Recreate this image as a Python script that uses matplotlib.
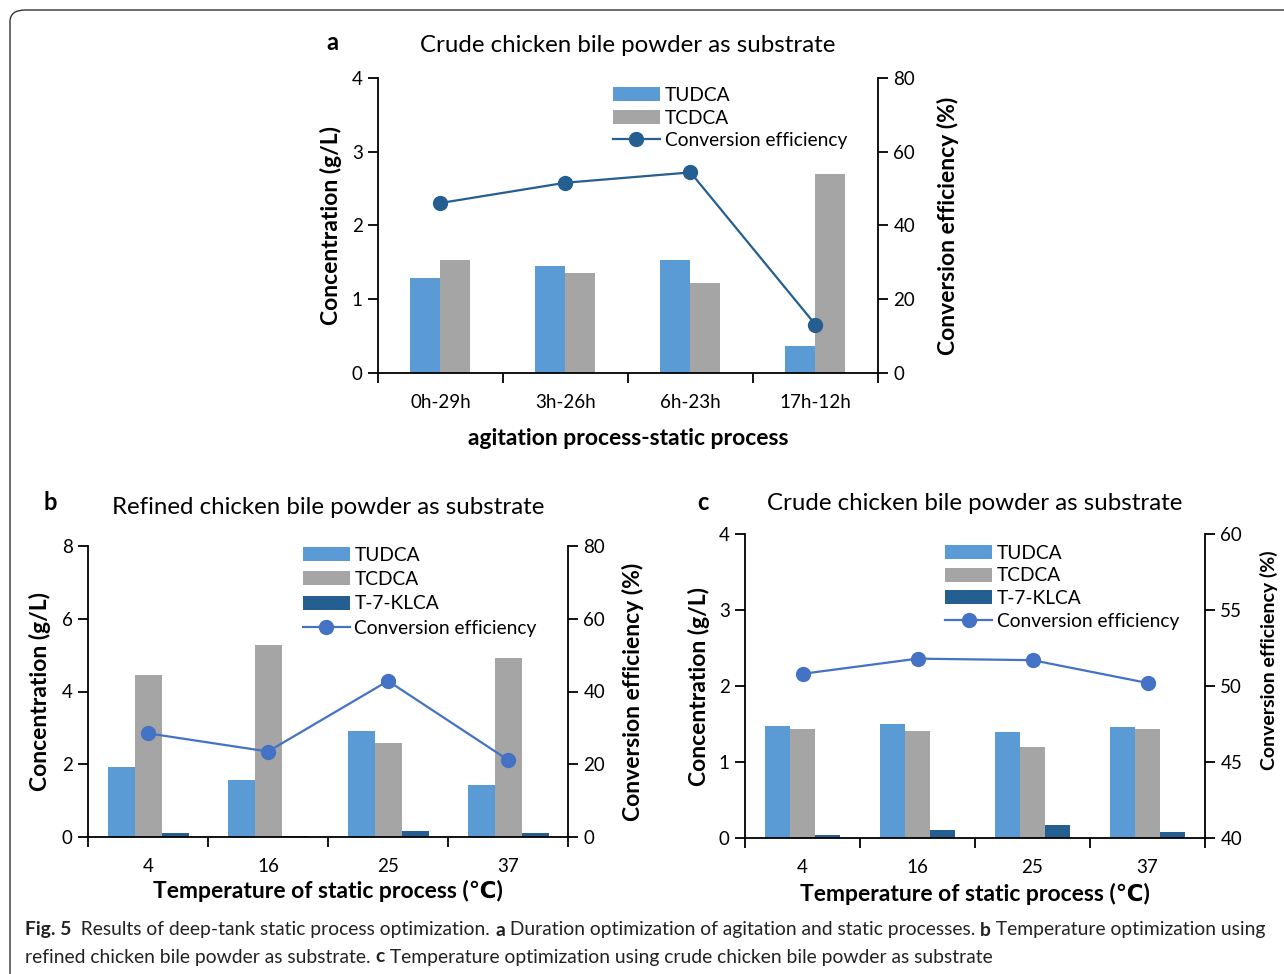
import matplotlib
matplotlib.use('Agg')
import matplotlib.pyplot as plt
from matplotlib.patches import FancyBboxPatch
import numpy as np

# ---------------- data ----------------
a_categories = ["0h-29h", "3h-26h", "6h-23h", "17h-12h"]
a_tudca = [1.29, 1.45, 1.53, 0.37]
a_tcdca = [1.53, 1.35, 1.22, 2.70]
a_conv = [46.1, 51.6, 54.4, 13.1]

b_categories = ["4", "16", "25", "37"]
b_tudca = [1.93, 1.58, 2.91, 1.44]
b_tcdca = [4.45, 5.27, 2.59, 4.92]
b_klca = [0.10, 0.03, 0.17, 0.10]
b_conv = [28.5, 23.5, 42.9, 21.2]

c_categories = ["4", "16", "25", "37"]
c_tudca = [1.47, 1.50, 1.40, 1.46]
c_tcdca = [1.43, 1.41, 1.20, 1.43]
c_klca = [0.04, 0.10, 0.17, 0.08]
c_conv = [50.8, 51.8, 51.7, 50.2]

series_names = ["TUDCA", "TCDCA", "T-7-KLCA"]
conv_name = "Conversion efficiency"

# ---------------- style ----------------
C_TUDCA = "#5B9BD5"
C_TCDCA = "#A5A5A5"
C_KLCA = "#255E91"
C_LINE_A = "#255E91"
C_LINE_BC = "#4472C4"

FONT = ['Lato', 'DejaVu Sans']
plt.rcParams['font.family'] = FONT

TICK_FS = 13.5
LABEL_FS = 16.5
LEG_FS = 13.8
TITLE_FS = 17.3

W, H = 1284, 974
fig = plt.figure(figsize=(W / 100, H / 100), dpi=100)

# rounded frame
frame = FancyBboxPatch((10 / W, -0.1), 1.2, 1 - 10 / H + 0.1,
                       boxstyle="round,pad=0,rounding_size=0.012",
                       transform=fig.transFigure, fill=False,
                       edgecolor="#333333", linewidth=1.0)
fig.patches.append(frame)


def make_axes(l, t, r, b):
    return fig.add_axes([l / W, 1 - b / H, (r - l) / W, (b - t) / H])


def panel(box, cats, bars, colors, names, conv, line_color, ylim, yticks,
          y2lim, y2ticks, barw, title, title_y, xlabel, xlabel_y,
          leg_anchor, leg_spacing, ylab_pad, y2lab_pad, y2lab_text=None):
    ax = make_axes(*box)
    n = len(cats)
    x = np.arange(n)
    k = len(bars)
    for i, (vals, col, nm) in enumerate(zip(bars, colors, names)):
        ax.bar(x + (i - (k - 1) / 2) * barw, vals, width=barw, color=col,
               label=nm, edgecolor='none', zorder=2)
    ax.set_xlim(-0.5, n - 0.5)
    ax.set_ylim(*ylim)
    ax.set_yticks(yticks)
    ax.set_yticklabels([f"{v:g}" for v in yticks])
    ax.set_xticks(x)
    ax.set_xticklabels(cats)
    ax.set_xticks(np.arange(n + 1) - 0.5, minor=True)
    ax.tick_params(axis='x', which='major', length=0, labelsize=TICK_FS, pad=15)
    ax.tick_params(axis='x', which='minor', length=7, width=1.3, direction='out')
    ax.tick_params(axis='y', length=7, width=1.3, direction='out', labelsize=TICK_FS, pad=4)
    ax.spines['top'].set_visible(False)
    ax.spines['right'].set_visible(False)
    for s in ['left', 'bottom']:
        ax.spines[s].set_linewidth(1.3)
    ax.set_ylabel("Concentration (g/L)", fontsize=LABEL_FS, fontweight='bold', labelpad=ylab_pad)

    ax2 = ax.twinx()
    ax2.set_ylim(*y2lim)
    ax2.set_yticks(y2ticks)
    ax2.set_yticklabels([f"{v:g}" for v in y2ticks])
    ax2.plot(x, conv, color=line_color, lw=1.6, marker='o', markersize=10,
             label=conv_name, zorder=3)
    ax2.spines['top'].set_visible(False)
    ax2.spines['left'].set_visible(False)
    ax2.spines['bottom'].set_visible(False)
    ax2.spines['right'].set_linewidth(1.3)
    ax2.tick_params(axis='y', length=7, width=1.3, direction='out', labelsize=TICK_FS, pad=4)
    if y2lab_text is None:
        ax2.set_ylabel("Conversion efficiency (%)", fontsize=LABEL_FS, fontweight='bold',
                       labelpad=y2lab_pad)
    else:
        px, py, fs = y2lab_text
        fig.text(px / W, 1 - py / H, "Conversion efficiency (%)", rotation=90,
                 ha='center', va='center', fontsize=fs, fontweight='bold')

    h1, l1 = ax.get_legend_handles_labels()
    h2, l2 = ax2.get_legend_handles_labels()
    ax2.legend(h1 + h2, l1 + l2, loc='upper left', bbox_to_anchor=leg_anchor,
               frameon=False, fontsize=LEG_FS, handlelength=2.45, handleheight=0.75,
               handletextpad=0.25, labelspacing=leg_spacing, borderaxespad=0,
               borderpad=0)
    cx = (box[0] + box[2]) / 2
    fig.text(cx / W, 1 - title_y / H, title, ha='center', va='center', fontsize=TITLE_FS)
    fig.text(cx / W, 1 - xlabel_y / H, xlabel, ha='center', va='center', fontsize=LABEL_FS,
             fontweight='bold', family=FONT)
    return ax, ax2


panel((378, 78, 878, 373), a_categories, [a_tudca, a_tcdca], [C_TUDCA, C_TCDCA],
      series_names[:2], a_conv, C_LINE_A, (0, 4), [0, 1, 2, 3, 4], (0, 80),
      [0, 20, 40, 60, 80], 0.24, "Crude chicken bile powder as substrate", 45,
      "agitation process-static process", 438, (0.47, 0.97), 0.3, 7, 16)

panel((88, 546, 568, 837), b_categories, [b_tudca, b_tcdca, b_klca],
      [C_TUDCA, C_TCDCA, C_KLCA], series_names, b_conv, C_LINE_BC, (0, 8),
      [0, 2, 4, 6, 8], (0, 80), [0, 20, 40, 60, 80], 0.225,
      "Refined chicken bile powder as substrate", 507,
      "Temperature of static process (℃)", 891, (0.447, 0.997), 0.38, 8, 12)

panel((745, 534, 1205, 838), c_categories, [c_tudca, c_tcdca, c_klca],
      [C_TUDCA, C_TCDCA, C_KLCA], series_names, c_conv, C_LINE_BC, (0, 4),
      [0, 1, 2, 3, 4], (40, 60), [40, 45, 50, 55, 60], 0.22,
      "Crude chicken bile powder as substrate", 504,
      "Temperature of static process (℃)", 894, (0.435, 0.965), 0.3, 6, 14,
      y2lab_text=(1269, 660, 14.0))

# panel letters
fig.text(332 / W, 1 - 42 / H, "a", fontsize=17, fontweight='bold', ha='center', va='center')
fig.text(50 / W, 1 - 502 / H, "b", fontsize=17, fontweight='bold', ha='center', va='center')
fig.text(703 / W, 1 - 502 / H, "c", fontsize=17, fontweight='bold', ha='center', va='center')

# caption with mixed weights
renderer = fig.canvas.get_renderer()


def caption_line(pieces, x0, y, size=13.9):
    x = x0
    for txt, bold in pieces:
        t = fig.text(x / W, 1 - y / H, txt, fontsize=size, ha='left', va='center',
                     fontweight='bold' if bold else 'normal', color='#222222')
        bb = t.get_window_extent(renderer=renderer)
        x += bb.width

caption_line([("Fig. 5", True), ("  Results of deep-tank static process optimization. ", False),
              ("a", True), (" Duration optimization of agitation and static processes. ", False),
              ("b", True), (" Temperature optimization using", False)], 25, 930)
caption_line([("refined chicken bile powder as substrate. ", False), ("c", True),
              (" Temperature optimization using crude chicken bile powder as substrate", False)],
             25, 957)

fig.savefig("out.png", dpi=100)
